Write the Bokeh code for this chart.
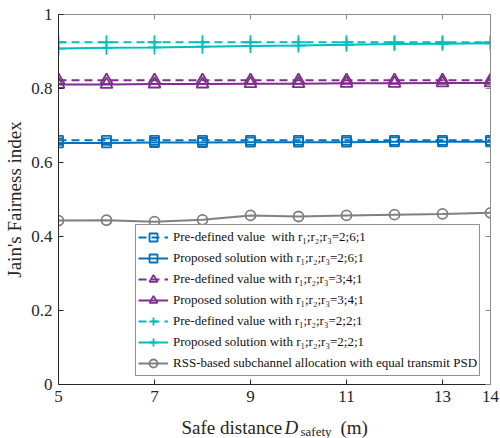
from bokeh.plotting import figure
from bokeh.layouts import column
from bokeh.models import (FixedTicker, LinearAxis, Legend, LegendItem, Range1d)
from bokeh.core.properties import value
from bokeh.embed import file_html
from bokeh.resources import INLINE

distance = [5, 6, 7, 8, 9, 10, 11, 12, 13, 14]
pre_261 = [0.660, 0.660, 0.660, 0.660, 0.660, 0.660, 0.660, 0.660, 0.660, 0.660]
prop_261 = [0.653, 0.653, 0.654, 0.654, 0.655, 0.655, 0.655, 0.656, 0.656, 0.656]
pre_341 = [0.822, 0.822, 0.822, 0.822, 0.822, 0.822, 0.822, 0.822, 0.822, 0.822]
prop_341 = [0.811, 0.811, 0.812, 0.812, 0.813, 0.813, 0.814, 0.814, 0.815, 0.815]
pre_221 = [0.925, 0.925, 0.925, 0.925, 0.925, 0.925, 0.925, 0.925, 0.925, 0.925]
prop_221 = [0.908, 0.910, 0.911, 0.913, 0.915, 0.916, 0.918, 0.920, 0.921, 0.922]
rss = [0.443, 0.444, 0.440, 0.445, 0.457, 0.454, 0.457, 0.459, 0.461, 0.464]

x_ticks = [5, 7, 9, 11, 13, 14]
y_ticks = [0, 0.2, 0.4, 0.6, 0.8, 1]
y_tick_labels = ["0", "0.2", "0.4", "0.6", "0.8", "1"]

labels = [
    "Pre-defined value  with r\u2081;r\u2082;r\u2083=2;6;1",
    "Proposed solution with r\u2081;r\u2082;r\u2083=2;6;1",
    "Pre-defined value with r\u2081;r\u2082;r\u2083=3;4;1",
    "Proposed solution with r\u2081;r\u2082;r\u2083=3;4;1",
    "Pre-defined value with r\u2081;r\u2082;r\u2083=2;2;1",
    "Proposed solution with r\u2081;r\u2082;r\u2083=2;2;1",
    "RSS-based subchannel allocation with equal transmit PSD",
]
x_label_parts = ["Safe distance", "D", "safety", "(m)"]

FONT = "Liberation Serif"
BLUE = "#0072BD"
PURPLE = "#7E2F8E"
CYAN = "#00BFBF"
GRAY = "#808080"

p = figure(width=500, height=412, output_backend="svg", toolbar_location=None,
           x_range=Range1d(5, 14), y_range=Range1d(0, 1),
           min_border_left=58, min_border_right=10, min_border_top=14, min_border_bottom=28,
           x_axis_location=None, y_axis_location=None)
p.grid.visible = False
p.outline_line_color = None
p.background_fill_color = "white"

def mk_axis(kind, show_labels, color):
    ax = LinearAxis()
    ax.ticker = FixedTicker(ticks=x_ticks if kind == "x" else y_ticks)
    ax.major_tick_in = 5
    ax.major_tick_out = 0
    ax.minor_tick_line_color = None
    ax.axis_line_color = color
    ax.major_tick_line_color = color
    ax.axis_line_width = 1
    if show_labels:
        ax.major_label_text_font = FONT
        ax.major_label_text_font_size = "17px"
        ax.major_label_text_color = "#262626"
        ax.major_label_standoff = 6
        if kind == "y":
            ax.major_label_overrides = {t: s for t, s in zip(y_ticks, y_tick_labels)}
    else:
        ax.major_label_text_font_size = "0px"
        ax.major_label_text_color = None
    return ax

bottom = mk_axis("x", True, "#262626")
left = mk_axis("y", True, "#262626")
left.axis_label = "Jain's Fairness index"
left.axis_label_text_font = FONT
left.axis_label_text_font_size = "19px"
left.axis_label_text_font_style = "normal"
left.axis_label_text_color = "#262626"
left.axis_label_standoff = 3
top = mk_axis("x", False, "#8c8c8c")
right = mk_axis("y", False, "#8c8c8c")
p.add_layout(bottom, "below")
p.add_layout(left, "left")
p.add_layout(top, "above")
p.add_layout(right, "right")

items = []
def series(y, color, marker, dash, size, label):
    r1 = p.line(distance, y, line_color=color, line_width=2, line_dash=dash)
    r2 = p.scatter(distance, y, marker=marker, size=size, line_color=color,
                   fill_color=None, line_width=1.8)
    items.append(LegendItem(label=label, renderers=[r1, r2]))

series(pre_261, BLUE, "square", "8 5", 9, labels[0])
series(prop_261, BLUE, "square", "solid", 9, labels[1])
series(pre_341, PURPLE, "triangle", "8 5", 12, labels[2])
series(prop_341, PURPLE, "triangle", "solid", 12, labels[3])
series(pre_221, CYAN, "cross", "8 5", 14, labels[4])
series(prop_221, CYAN, "cross", "solid", 14, labels[5])
series(rss, GRAY, "circle", "solid", 10, labels[6])

legend = Legend(items=items, location=(77, 8))
legend.label_text_font = FONT
legend.label_text_font_size = "13px"
legend.label_text_color = "#111111"
legend.glyph_width = 30
legend.glyph_height = 20
legend.label_height = 20
legend.label_standoff = 5
legend.spacing = 1
legend.padding = 2
legend.margin = 0
legend.border_line_color = "#262626"
legend.border_line_width = 1
legend.background_fill_alpha = 1
p.add_layout(legend, "center")

# strip below the chart carrying the x-axis title (italic D with subscript);
# its frame lines up with the chart frame, so its x range is in page pixels
q = figure(width=500, height=26, frame_width=432, frame_height=26,
           output_backend="svg", toolbar_location=None,
           x_range=Range1d(58, 490), y_range=Range1d(0, 26),
           min_border_left=58, min_border_right=10, min_border_top=0, min_border_bottom=0,
           x_axis_location=None, y_axis_location=None)
q.grid.visible = False
q.outline_line_color = None
q.border_fill_color = None
txt = dict(text_font=value(FONT), text_color="#262626", text_baseline="alphabetic")
q.text(x=[181], y=[11], text=[x_label_parts[0]], text_font_size="19px", **txt)
q.text(x=[284], y=[11], text=[x_label_parts[1]], text_font_size="19px",
       text_font_style="italic", **txt)
q.text(x=[300], y=[7], text=[x_label_parts[2]], text_font_size="13px", **txt)
q.text(x=[340], y=[11], text=[x_label_parts[3]], text_font_size="19px", **txt)

layout = column(p, q, spacing=0)
open("out.html", "w").write(file_html(layout, INLINE))
